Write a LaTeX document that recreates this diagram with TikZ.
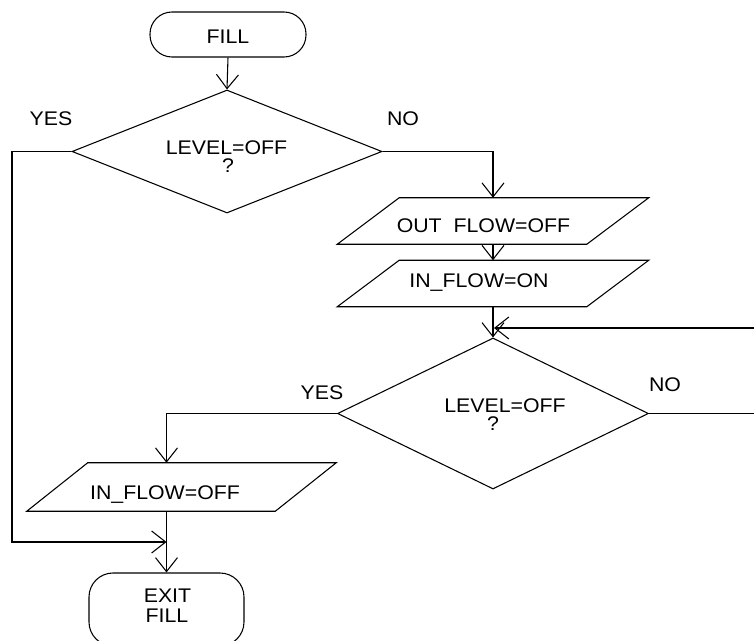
\documentclass[tikz,border=0pt]{standalone}
\usepackage{fontspec}
\setmainfont{Liberation Sans}[FakeStretch=1.08]
\usetikzlibrary{arrows.meta,shapes.geometric,calc}

\tikzset{
  line/.style={draw=black, line width=0.8pt},
  arr/.style={line, -{Straight Barb[length=10.5pt,width=16.5pt,line width=0.8pt]}},
  terminal/.style={line, rectangle, inner sep=0pt},
  decision/.style={line, diamond, inner sep=0pt},
  iobody/.style={rectangle, inner sep=0pt, minimum width=140.25pt, minimum height=34.5pt},
  txt/.style={anchor=base, inner sep=0pt, font=\fontsize{14.8pt}{15pt}\selectfont}
}

\begin{document}
\begin{tikzpicture}[x=0.75pt, y=-0.75pt]
  \useasboundingbox (0,0) rectangle (754,641);
  \clip (0,0) rectangle (754,641);

  % start terminal
  \node[terminal, minimum width=117pt, minimum height=33.75pt, rounded corners=16.5pt] (start) at (228,34.5) {};
  \node[txt] (tstart) at (228,44) {FILL};

  % first test
  \node[decision, minimum width=232.5pt, minimum height=92.25pt] (d1) at (227,151.5) {};
  \node[txt] (td1a) at (226.5,155) {LEVEL=OFF};
  \node[txt] (td1b) at (228,173) {?};
  \node[txt] (yes1) at (51,126) {YES};
  \node[txt] (no1) at (403,126) {NO};

  % output flow off
  \node[iobody] (outoff) at (493,221) {};
  \draw[line] ($(outoff.south west)+(-62,0)$) -- (outoff.north west) -- ($(outoff.north east)+(62,0)$) -- (outoff.south east) -- cycle;
  \node[txt] (toutoff) at (483.5,233) {OUT~~FLOW=OFF};

  % input flow on
  \node[iobody] (inon) at (493,283.5) {};
  \draw[line] ($(inon.south west)+(-62,0)$) -- (inon.north west) -- ($(inon.north east)+(62,0)$) -- (inon.south east) -- cycle;
  \node[txt] (tinon) at (479,288) {IN\_FLOW=ON};

  % second test
  \node[decision, minimum width=233.25pt, minimum height=113.25pt] (d2) at (493,413.5) {};
  \node[txt] (td2a) at (505,413) {LEVEL=OFF};
  \node[txt] (td2b) at (493,431) {?};
  \node[txt] (yes2) at (322,400) {YES};
  \node[txt] (no2) at (665,392) {NO};

  % input flow off
  \node[iobody, minimum height=36pt] (inoff) at (181.5,487) {};
  \draw[line] ($(inoff.south west)+(-61,0)$) -- (inoff.north west) -- ($(inoff.north east)+(61,0)$) -- (inoff.south east) -- cycle;
  \node[txt] (tinoff) at (165,500) {IN\_FLOW=OFF};

  % end terminal
  \node[terminal, minimum width=116.25pt, minimum height=54.75pt, rounded corners=18pt] (exit) at (166.5,609.5) {};
  \node[txt] (texit1) at (167.5,603) {EXIT};
  \node[txt] (texit2) at (167,623) {FILL};

  % routing points
  \coordinate (rail) at (12,542);
  \coordinate (merge) at (166.5,542);
  \coordinate (loopout) at (770,413.5);
  \coordinate (loopin) at (494,328);

  % connectors
  \draw[arr] (start.south) -- (d1.north);
  \draw[arr] (d1.east) -| (outoff.north);
  \draw[arr] (outoff.south) -- (inon.north);
  \draw[arr] (inon.south) -- (d2.north);
  \draw[arr] (d2.east) -- (loopout) |- (loopin);
  \draw[arr] (d2.west) -| (exit.north |- inoff.north);
  \draw[line] (inoff.south -| exit.north) -- (merge);
  \draw[arr] (merge) -- (exit.north);
  \draw[arr] (d1.west) -| (rail) -- (merge);
\end{tikzpicture}
\end{document}
